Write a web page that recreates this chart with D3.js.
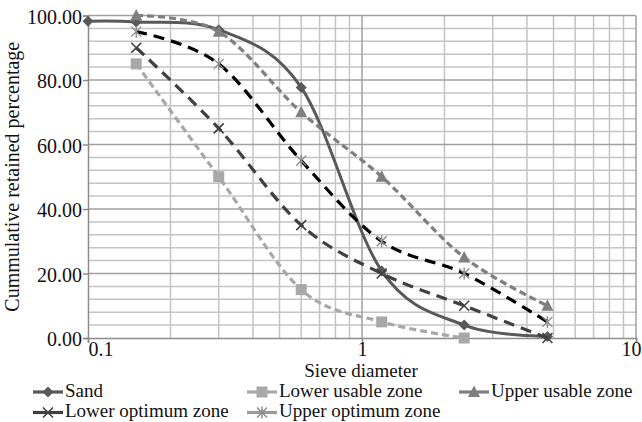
<!DOCTYPE html>
<html><head><meta charset="utf-8">
<script src="https://cdn.jsdelivr.net/npm/d3@7"></script>
<style>
html,body{margin:0;padding:0;background:#fff;}
text{font-family:"Liberation Serif","Times New Roman",serif;}
</style></head>
<body><svg id="c" width="642" height="422"></svg>
<script>
const sieve = [0.15, 0.3, 0.6, 1.18, 2.36, 4.75];
const sandSieve = [0.1, 0.15, 0.3, 0.6, 1.18, 2.36, 4.75];
const sand = [98.2, 98.0, 95.6, 77.7, 20.8, 4.0, 0.5];
const lowerUsable = [85, 50, 15, 5, 0];
const upperUsable = [100, 95, 70, 50, 25, 10];
const lowerOptimum = [90, 65, 35, 20, 10, 0];
const upperOptimum = [95, 85, 55, 30, 20, 5];
const yTicks = [0, 20, 40, 60, 80, 100];
const xTicks = [0.1, 1, 10];
const seriesNames = ["Sand", "Lower usable zone", "Upper usable zone", "Lower optimum zone", "Upper optimum zone"];

const svg = d3.select("#c");
const x = d3.scaleLog().domain([0.1, 10]).range([88, 636]);
const y = d3.scaleLinear().domain([0, 100]).range([338, 15.5]);

// grid
const g = svg.append("g");
const minorY = d3.range(0, 101, 4).filter(v => v % 20 !== 0);
g.selectAll(".hm").data(minorY).enter().append("line")
  .attr("x1", x(0.1)).attr("x2", x(10)).attr("y1", d => y(d)).attr("y2", d => y(d))
  .attr("stroke", "#c4c4c4").attr("stroke-width", 1.5);
const minorX = [0.2,0.3,0.4,0.5,0.6,0.7,0.8,0.9,2,3,4,5,6,7,8,9];
g.selectAll(".vm").data(minorX).enter().append("line")
  .attr("x1", d => x(d)).attr("x2", d => x(d)).attr("y1", y(0)).attr("y2", y(100))
  .attr("stroke", "#c4c4c4").attr("stroke-width", 1.5);
g.selectAll(".hM").data(yTicks.filter(v => v > 0)).enter().append("line")
  .attr("x1", x(0.1)).attr("x2", x(10)).attr("y1", d => y(d)).attr("y2", d => y(d))
  .attr("stroke", "#a0a0a0").attr("stroke-width", 1.5);
g.selectAll(".vM").data([1, 10]).enter().append("line")
  .attr("x1", d => x(d)).attr("x2", d => x(d)).attr("y1", y(0)).attr("y2", y(100))
  .attr("stroke", "#a0a0a0").attr("stroke-width", 1.5);

// axes
const yAxis = d3.axisLeft(y).tickValues(yTicks).tickFormat(d3.format(".2f")).tickSize(5).tickPadding(1);
const ya = svg.append("g").attr("transform", `translate(${x(0.1)},0)`).call(yAxis);
const xAxis = d3.axisBottom(x).tickValues(xTicks).tickFormat(d => String(d)).tickSize(5).tickPadding(0);
const xa = svg.append("g").attr("transform", `translate(0,${y(0)})`).call(xAxis);
[ya, xa].forEach(a => {
  a.select(".domain").attr("stroke", "#8c8c8c").attr("stroke-width", 1.5);
  a.selectAll(".tick line").attr("stroke", "#8c8c8c").attr("stroke-width", 1.5);
  a.selectAll("text").attr("font-size", 20).attr("fill", "#111").attr("font-family", "Liberation Serif");
});
ya.selectAll("text").attr("dy", "0.38em");
xa.selectAll("text").attr("dy", "0.66em");
xa.selectAll(".tick").filter(d => d === 0.1).select("text").attr("text-anchor", "start");
xa.selectAll(".tick").filter(d => d === 10).select("text").attr("text-anchor", "end").attr("dx", 5);

// axis titles
svg.append("text").attr("x", 361).attr("y", 376.5).attr("text-anchor", "middle")
  .attr("font-size", 19).attr("fill", "#111").text("Sieve diameter");
svg.append("text").attr("transform", `translate(19,${(y(0) + y(100)) / 2}) rotate(-90)`)
  .attr("text-anchor", "middle").attr("font-size", 20).attr("fill", "#111")
  .text("Cummulative retained percentage");

// series
const styles = [
  {xs: sandSieve, ys: sand, color: "#595959", dash: null, w: 3, marker: "diamond", mcolor: "#595959", lcolor: "#595959"},
  {xs: sieve, ys: lowerUsable, color: "#a8a8a8", dash: "7,4", w: 3.2, marker: "square", mcolor: "#a8a8a8", lcolor: "#a8a8a8"},
  {xs: sieve, ys: upperUsable, color: "#7f7f7f", dash: "7,4", w: 3.2, marker: "triangle", mcolor: "#7f7f7f", lcolor: "#7f7f7f"},
  {xs: sieve, ys: lowerOptimum, color: "#404040", dash: "11,7", w: 3.2, marker: "x", mcolor: "#404040", lcolor: "#404040"},
  {xs: sieve, ys: upperOptimum, color: "#000000", dash: "11,7", w: 3.2, marker: "star", mcolor: "#8a8a8a", lcolor: "#9a9a9a"}
];
const line = d3.line().x(d => x(d[0])).y(d => y(d[1])).curve(d3.curveCardinal.tension(0));

function drawMarker(sel, type, color, cx, cy) {
  if (type === "diamond") {
    sel.append("path").attr("d", `M${cx},${cy-5.5}L${cx+5.5},${cy}L${cx},${cy+5.5}L${cx-5.5},${cy}Z`).attr("fill", color);
  } else if (type === "square") {
    sel.append("rect").attr("x", cx-5.5).attr("y", cy-5.5).attr("width", 11).attr("height", 11).attr("fill", color);
  } else if (type === "triangle") {
    sel.append("path").attr("d", `M${cx},${cy-6.5}L${cx+6},${cy+5}L${cx-6},${cy+5}Z`).attr("fill", color);
  } else if (type === "x") {
    sel.append("path").attr("d", `M${cx-5},${cy-5}L${cx+5},${cy+5}M${cx-5},${cy+5}L${cx+5},${cy-5}`)
      .attr("stroke", color).attr("stroke-width", 1.6).attr("fill", "none");
  } else if (type === "star") {
    sel.append("path").attr("d", `M${cx-5},${cy-5}L${cx+5},${cy+5}M${cx-5},${cy+5}L${cx+5},${cy-5}M${cx},${cy-6}L${cx},${cy+6}`)
      .attr("stroke", color).attr("stroke-width", 1.4).attr("fill", "none");
  }
}

styles.forEach(s => {
  const pts = s.ys.map((v, i) => [s.xs[i], v]);
  const p = svg.append("path").attr("d", line(pts)).attr("fill", "none")
    .attr("stroke", s.color).attr("stroke-width", s.w);
  if (s.dash) p.attr("stroke-dasharray", s.dash);
  const mg = svg.append("g");
  pts.forEach(d => drawMarker(mg, s.marker, s.mcolor, x(d[0]), y(d[1])));
});

// legend
const legendPos = [
  {lx: 33, ty: 396.5}, {lx: 247, ty: 396.5}, {lx: 459, ty: 396.5},
  {lx: 33, ty: 417}, {lx: 247, ty: 417}
];
const lg = svg.append("g");
styles.forEach((s, i) => {
  const p = legendPos[i];
  const cy = p.ty - 4.5;
  lg.append("line").attr("x1", p.lx).attr("x2", p.lx + 30).attr("y1", cy).attr("y2", cy)
    .attr("stroke", s.lcolor).attr("stroke-width", 3.2);
  drawMarker(lg, s.marker, s.mcolor, p.lx + 15, cy);
  lg.append("text").attr("x", p.lx + 32).attr("y", p.ty).attr("font-size", 19).attr("fill", "#111")
    .text(seriesNames[i]);
});
</script></body></html>
